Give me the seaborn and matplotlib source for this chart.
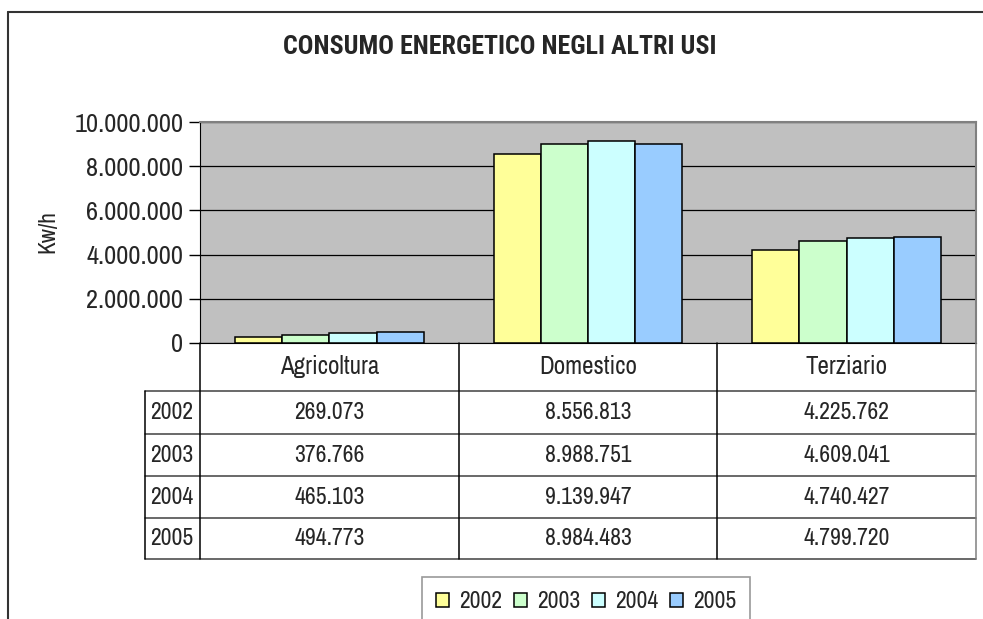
import pandas as pd
import seaborn as sns
import matplotlib.pyplot as plt
from matplotlib.lines import Line2D
from matplotlib.ticker import FuncFormatter
from matplotlib.transforms import blended_transform_factory

categories = ["Agricoltura", "Domestico", "Terziario"]
years = ["2002", "2003", "2004", "2005"]
v2002 = [269073, 8556813, 4225762]
v2003 = [376766, 8988751, 4609041]
v2004 = [465103, 9139947, 4740427]
v2005 = [494773, 8984483, 4799720]
yticks = [0, 2000000, 4000000, 6000000, 8000000, 10000000]
colors = ["#FFFF99", "#CCFFCC", "#CCFFFF", "#99CCFF"]

series = [v2002, v2003, v2004, v2005]
df = pd.DataFrame([(c, y, s[i]) for y, s in zip(years, series) for i, c in enumerate(categories)],
                  columns=["uso", "anno", "kwh"])


def ita(v):
    return f"{int(v):,}".replace(",", ".")  # punto come separatore delle migliaia


sns.set_style("ticks")
plt.rcParams['font.family'] = ['Archivo Narrow', 'Liberation Sans', 'DejaVu Sans']

W, H = 983, 619
fig = plt.figure(figsize=(W / 100, H / 100), dpi=100)
fx = lambda x: x / W
fy = lambda y: 1 - y / H

ax = fig.add_axes([fx(200), fy(343), (976 - 200) / W, (343 - 122) / H])
ax.set_facecolor("#C0C0C0")
sns.barplot(data=df, x="uso", y="kwh", hue="anno", palette=colors, width=0.73,
            edgecolor="black", linewidth=1.1, saturation=1, ax=ax)
ax.get_legend().remove()

ax.set_ylim(0, 10000000)
ax.set_xlim(-0.5, len(categories) - 0.5)
ax.set_yticks(yticks)
ax.yaxis.set_major_formatter(FuncFormatter(lambda v, p: ita(v)))
ax.tick_params(axis='y', labelsize=19, length=8, width=1, color='black', pad=4)
ax.set_xticks([])
ax.set_xlabel("")
ax.set_ylabel("")
ax.yaxis.grid(True, color="black", lw=0.9)
ax.set_axisbelow(True)
for side in ["top", "right"]:
    ax.spines[side].set_color("#808080")
    ax.spines[side].set_linewidth(1.5)
ax.spines["left"].set_color("black")
ax.spines["bottom"].set_color("black")

fig.text(fx(48), fy(232), "Kw/h", rotation=90, ha="center", va="center", fontsize=17)
fig.text(fx(500), fy(47), "CONSUMO ENERGETICO NEGLI ALTRI USI", ha="center", va="center",
         fontsize=18.7, fontweight="bold",
         family=['Roboto Condensed', 'Saira SemiCondensed', 'Archivo Narrow'])

# data table under the axis
tr = blended_transform_factory(ax.transData, fig.transFigure)
to_fig = lambda xd: fig.transFigure.inverted().transform(ax.transData.transform((xd, 0)))[0]
row_y = [391, 434, 476, 518, 559]
for y in row_y:
    fig.add_artist(Line2D([fx(145), fx(976)], [fy(y), fy(y)], color="#404040", lw=1.1))
for b in [-0.5, 0.5, 1.5, 2.5]:
    fig.add_artist(Line2D([to_fig(b)] * 2, [fy(343), fy(559)],
                          color="#808080" if b == 2.5 else "black", lw=1.1))
fig.add_artist(Line2D([fx(145)] * 2, [fy(391), fy(559)], color="black", lw=1.1))

for i, c in enumerate(categories):
    fig.text(i, fy(367), c, transform=tr, ha="center", va="center", fontsize=18)
for r, (yr, s) in enumerate(zip(years, series)):
    yc = (row_y[r] + row_y[r + 1]) / 2
    fig.text(fx(172), fy(yc), yr, ha="center", va="center", fontsize=17)
    for i in range(len(categories)):
        fig.text(i, fy(yc), ita(s[i]), transform=tr, ha="center", va="center", fontsize=17)

# outer chart border, cut by the image edge
fig.add_artist(Line2D([fx(8), fx(8)], [fy(12), 0], color="#333333", lw=1.5))
fig.add_artist(Line2D([fx(8), 1], [fy(12), fy(12)], color="#333333", lw=1.5))

handles, labels = ax.get_legend_handles_labels()
leg = fig.legend(handles, labels, loc="upper center", bbox_to_anchor=(fx(586), fy(577)),
                 ncol=4, fontsize=17, frameon=True, fancybox=False, handlelength=0.55,
                 handleheight=0.55, handletextpad=0.42, columnspacing=0.5, borderpad=0.6,
                 borderaxespad=0)
leg.get_frame().set_edgecolor("#808080")
leg.get_frame().set_linewidth(1.2)

fig.savefig("out.png", dpi=100)
